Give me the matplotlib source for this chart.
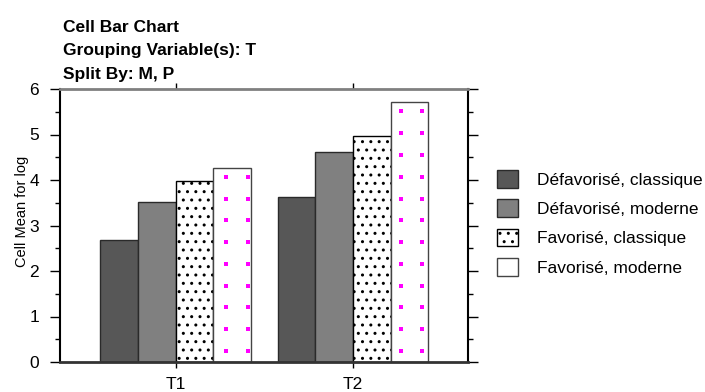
import numpy as np
import matplotlib
matplotlib.use("Agg")
import matplotlib.pyplot as plt
from matplotlib.ticker import MultipleLocator

plt.rcParams['font.family'] = ['Liberation Sans', 'DejaVu Sans']
plt.rcParams['hatch.linewidth'] = 1.0

# data
groups = ['T1', 'T2']
series = ['Défavorisé, classique', 'Défavorisé, moderne',
          'Favorisé, classique', 'Favorisé, moderne']
values = {
    'Défavorisé, classique': [2.68, 3.63],
    'Défavorisé, moderne': [3.51, 4.61],
    'Favorisé, classique': [3.97, 4.96],
    'Favorisé, moderne': [4.26, 5.72],
}
title_lines = ['Cell Bar Chart', 'Grouping Variable(s): T', 'Split By: M, P']

styles = [
    dict(color='#575757', edgecolor='#2a2a2a', hatch=None),
    dict(color='#808080', edgecolor='#2a2a2a', hatch=None),
    dict(color='white', edgecolor='black', hatch='..'),
    dict(color='white', edgecolor='#444444', hatch=None),
]

fig = plt.figure(figsize=(7.05, 3.92), dpi=100)
ax = fig.add_axes([60 / 705, 30 / 392, 408 / 705, 273 / 392])

x = np.arange(len(groups))
w = 0.2125
bars_by_series = []
for i, name in enumerate(series):
    st = styles[i]
    b = ax.bar(x + (i - 2) * w, values[name], width=w, align='edge',
               color=st['color'], edgecolor=st['edgecolor'], linewidth=1.0,
               hatch=st['hatch'], label=name, zorder=2)
    bars_by_series.append(b)

# magenta dot pattern for the last series (fixed pitch grid clipped to each bar)
dot_dx, dot_dy = 0.1228, 0.479
dot_x0, dot_y0 = 0.286, 0.24
for rect in bars_by_series[3]:
    left, right = rect.get_x(), rect.get_x() + rect.get_width()
    top = rect.get_height()
    k0 = np.ceil((left + 0.01 - dot_x0) / dot_dx)
    k1 = np.floor((right - 0.01 - dot_x0) / dot_dx)
    xs = dot_x0 + dot_dx * np.arange(k0, k1 + 1)
    ys = dot_y0 + dot_dy * np.arange(0, int((top - 0.1 - dot_y0) / dot_dy) + 1)
    gx, gy = np.meshgrid(xs, ys)
    ax.scatter(gx.ravel(), gy.ravel(), marker='s', s=5.5, color='#ff00ff',
               linewidths=0, zorder=3)

ax.set_xlim(-0.651, 1.648)
ax.set_ylim(0, 6)
ax.set_xticks(x)
ax.set_xticklabels(groups, fontsize=12.5)
ax.yaxis.set_major_locator(MultipleLocator(1))
ax.yaxis.set_minor_locator(MultipleLocator(0.5))
ax.tick_params(axis='y', which='major', length=7, width=1, labelsize=12.5,
               pad=8, right=True, direction='out')
ax.tick_params(axis='y', which='minor', length=3.5, width=1, right=True,
               direction='out')
ax.tick_params(axis='x', length=4, width=1, pad=7, top=True, direction='out')

ax.spines['left'].set_linewidth(1.5)
ax.spines['right'].set_linewidth(1.5)
ax.spines['top'].set_color('#808080')
ax.spines['top'].set_linewidth(2)
ax.spines['bottom'].set_color('#333333')
ax.spines['bottom'].set_linewidth(2)

fig.text(22 / 705, 1 - 211 / 392, 'Cell Mean for log', rotation=90,
         fontsize=10.5, ha='center', va='center')

for j, line in enumerate(title_lines):
    fig.text(63 / 705, 1 - (32 + 23.5 * j) / 392, line, fontsize=12.5,
             fontweight='bold', ha='left', va='baseline')

fig.legend(handles=bars_by_series, labels=series, loc='upper left',
           bbox_to_anchor=(497 / 705, 1 - 170 / 392), frameon=False,
           fontsize=12.5, handlelength=1.2, handleheight=1.2,
           handletextpad=1.1, labelspacing=0.66, borderpad=0, borderaxespad=0)

fig.savefig('out.png', dpi=100)
